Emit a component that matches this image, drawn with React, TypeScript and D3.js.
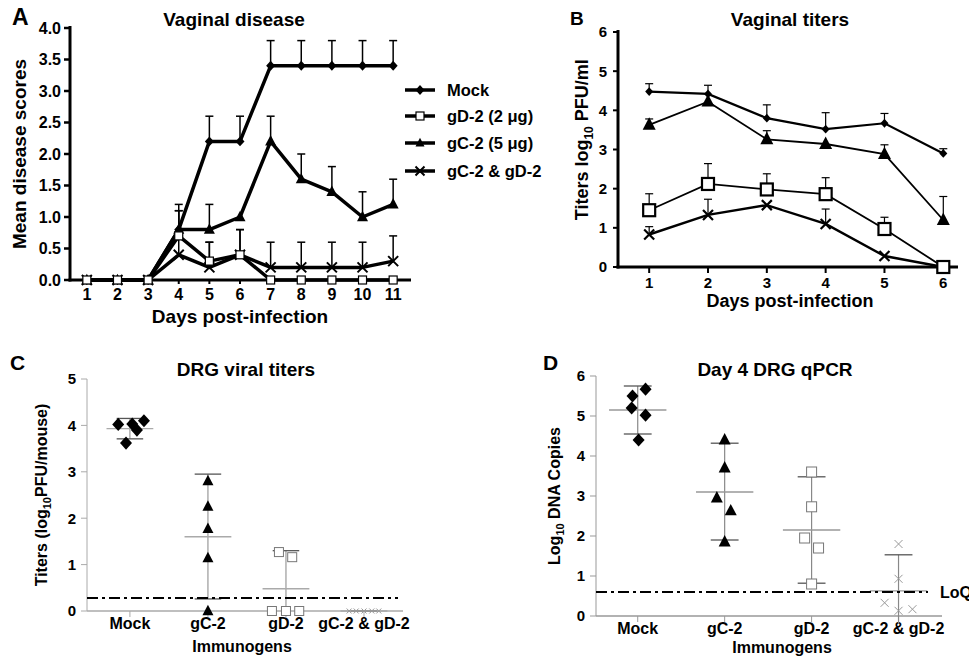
import React from 'react';
import * as d3 from 'd3';

// Panel A: vaginal disease scores, days 1-11
const diseaseDays = [1, 2, 3, 4, 5, 6, 7, 8, 9, 10, 11];
const mockScore = [0, 0, 0, 0.8, 2.2, 2.2, 3.4, 3.4, 3.4, 3.4, 3.4];
const mockScoreErr = [0, 0, 0, 0.4, 0.4, 0.4, 0.4, 0.4, 0.4, 0.4, 0.4];
const gD2Score = [0, 0, 0, 0.7, 0.3, 0.4, 0, 0, 0, 0, 0];
const gD2ScoreErr = [0, 0, 0, 0.4, 0.3, 0.4, 0, 0, 0, 0, 0];
const gC2Score = [0, 0, 0, 0.8, 0.8, 1.0, 2.2, 1.6, 1.4, 1.0, 1.2];
const gC2ScoreErr = [0, 0, 0, 0.3, 0.4, 0, 0.4, 0.4, 0.4, 0.4, 0.4];
const comboScore = [0, 0, 0, 0.4, 0.2, 0.4, 0.2, 0.2, 0.2, 0.2, 0.3];
const comboScoreErr = [0, 0, 0, 0.3, 0.4, 0.4, 0.4, 0.4, 0.4, 0.4, 0.4];
const diseaseTicks = [0, 0.5, 1, 1.5, 2, 2.5, 3, 3.5, 4];
const legendLabels = ['Mock', 'gD-2 (2 μg)', 'gC-2 (5 μg)', 'gC-2 & gD-2'];

// Panel B: vaginal titers, days 1-6
const titerDays = [1, 2, 3, 4, 5, 6];
const mockTiter = [4.48, 4.42, 3.8, 3.52, 3.67, 2.9];
const mockTiterErr = [0.2, 0.22, 0.34, 0.42, 0.25, 0.12];
const gC2Titer = [3.63, 4.22, 3.26, 3.14, 2.88, 1.2];
const gC2TiterErr = [0.15, 0, 0.22, 0, 0.24, 0.6];
const gD2Titer = [1.45, 2.12, 1.98, 1.86, 0.97, 0];
const gD2TiterErr = [0.42, 0.52, 0.4, 0.42, 0.3, 0];
const comboTiter = [0.83, 1.33, 1.58, 1.1, 0.28, 0];
const comboTiterErr = [0.2, 0.4, 0, 0.38, 0, 0];
const titerTicks = [0, 1, 2, 3, 4, 5, 6];

// Panels C and D: immunogen groups
const immunogens = ['Mock', 'gC-2', 'gD-2', 'gC-2 & gD-2'];

const drgMock = [4.02, 3.62, 4.03, 3.9, 4.1];
const drgMockJitter = [-0.15, -0.05, 0.03, 0.09, 0.18];
const drgGC2 = [2.8, 2.25, 1.77, 1.14, 0];
const drgGC2Jitter = [0, 0, 0, 0, 0];
const drgGD2 = [1.27, 1.16, 0, 0, 0];
const drgGD2Jitter = [-0.09, 0.08, -0.18, 0, 0.17];
const drgCombo = [0, 0, 0, 0, 0];
const drgComboJitter = [-0.19, -0.1, 0, 0.1, 0.19];
const drgMean = [3.93, 1.6, 0.48, 0];
const drgLow = [3.71, 0.26, -0.1, 0];
const drgHigh = [4.15, 2.95, 1.3, 0];
const drgTicks = [0, 1, 2, 3, 4, 5];
const drgLimit = 0.28;

const qpcrMock = [5.5, 5.67, 5.2, 5.02, 4.4];
const qpcrMockJitter = [-0.06, 0.09, -0.07, 0.09, 0.01];
const qpcrGC2 = [4.4, 3.7, 2.95, 2.63, 1.85];
const qpcrGC2Jitter = [0, 0, -0.09, 0.07, 0];
const qpcrGD2 = [3.6, 2.73, 1.95, 1.7, 0.8];
const qpcrGD2Jitter = [0, 0, -0.08, 0.08, 0];
const qpcrCombo = [1.8, 0.93, 0.33, 0.13, 0.17];
const qpcrComboJitter = [0, 0, -0.16, 0, 0.16];
const qpcrMean = [5.15, 3.1, 2.15, 0.63];
const qpcrLow = [4.55, 1.9, 0.82, -0.2];
const qpcrHigh = [5.75, 4.32, 3.48, 1.53];
const qpcrTicks = [0, 1, 2, 3, 4, 5, 6];
const qpcrLimit = 0.6;

const FONT = '"Liberation Sans", Arial, Helvetica, sans-serif';

type Kind = 'diamond' | 'square' | 'triangle' | 'cross';

function Marker({ kind, x, y, r, color = 'black', sw = 1.5 }: { kind: Kind; x: number; y: number; r: number; color?: string; sw?: number }) {
  if (kind === 'diamond')
    return <path d={`M${x},${y - r * 1.1}L${x + r},${y}L${x},${y + r * 1.1}L${x - r},${y}Z`} fill={color} />;
  if (kind === 'square')
    return <rect x={x - r} y={y - r} width={2 * r} height={2 * r} fill="white" stroke={color} strokeWidth={sw} />;
  if (kind === 'triangle')
    return <path d={`M${x},${y - r * 1.15}L${x + r},${y + r * 0.75}L${x - r},${y + r * 0.75}Z`} fill={color} />;
  return <path d={`M${x - r},${y - r}L${x + r},${y + r}M${x - r},${y + r}L${x + r},${y - r}`} stroke={color} strokeWidth={sw} fill="none" />;
}

function PanelA() {
  const x = d3.scaleLinear().domain([0.45, 11.55]).range([70, 410]);
  const y = d3.scaleLinear().domain([0, 4]).range([280, 28]);
  const series = [
    { values: mockScore, err: mockScoreErr, kind: 'diamond' as Kind, r: 4.5 },
    { values: gC2Score, err: gC2ScoreErr, kind: 'triangle' as Kind, r: 5.5 },
    { values: comboScore, err: comboScoreErr, kind: 'cross' as Kind, r: 5 },
    { values: gD2Score, err: gD2ScoreErr, kind: 'square' as Kind, r: 4 },
  ];
  const line = d3.line<number>().x((_, i) => x(diseaseDays[i])).y(v => y(v));
  const legendKinds: Kind[] = ['diamond', 'square', 'triangle', 'cross'];
  return (
    <g fontFamily={FONT} fontWeight="bold">
      <text x={12} y={25} fontSize={23}>A</text>
      <text x={234} y={26} fontSize={19} textAnchor="middle">Vaginal disease</text>
      <text transform={`translate(26,${y(2)}) rotate(-90)`} fontSize={19} textAnchor="middle">Mean disease scores</text>
      {diseaseTicks.map(t => (
        <g key={t}>
          <line x1={64} x2={70} y1={y(t)} y2={y(t)} stroke="black" strokeWidth={2.5} />
          <text x={61} y={y(t)} dy="0.36em" fontSize={16} textAnchor="end">{t.toFixed(1)}</text>
        </g>
      ))}
      {diseaseDays.map(d => (
        <g key={d}>
          <line x1={x(d)} x2={x(d)} y1={280} y2={284} stroke="black" strokeWidth={2} />
          <text x={x(d)} y={300} fontSize={16} textAnchor="middle">{d}</text>
        </g>
      ))}
      <text x={240} y={323} fontSize={19} textAnchor="middle">Days post-infection</text>
      {series.map((s, k) => (
        <g key={'e' + k}>
          {s.values.map((v, i) => s.err[i] > 0 && (
            <g key={i}>
              <line x1={x(diseaseDays[i])} x2={x(diseaseDays[i])} y1={y(v)} y2={y(v + s.err[i])} stroke="black" strokeWidth={1.5} />
              <line x1={x(diseaseDays[i]) - 4} x2={x(diseaseDays[i]) + 4} y1={y(v + s.err[i])} y2={y(v + s.err[i])} stroke="black" strokeWidth={1.5} />
            </g>
          ))}
        </g>
      ))}
      {series.map((s, k) => (
        <path key={'l' + k} d={line(s.values) || ''} fill="none" stroke="black" strokeWidth={3.5} strokeLinejoin="round" />
      ))}
      <line x1={70} x2={70} y1={26} y2={281.5} stroke="black" strokeWidth={3} />
      <line x1={68.5} x2={411} y1={280} y2={280} stroke="black" strokeWidth={3} />
      {series.map((s, k) => (
        <g key={'m' + k}>
          {s.values.map((v, i) => (
            <Marker key={i} kind={s.kind} x={x(diseaseDays[i])} y={y(v)} r={s.r} sw={s.kind === 'cross' ? 2 : 1.2} />
          ))}
        </g>
      ))}
      {legendLabels.map((lab, i) => {
        const ly = [90, 116, 143, 171][i];
        return (
          <g key={lab}>
            <line x1={405} x2={435} y1={ly} y2={ly} stroke="black" strokeWidth={3.5} />
            <Marker kind={legendKinds[i]} x={420} y={ly} r={legendKinds[i] === 'square' ? 4 : 4.5} sw={legendKinds[i] === 'cross' ? 2 : 1.2} />
            <text x={447} y={ly + 6} fontSize={16.5}>{lab}</text>
          </g>
        );
      })}
    </g>
  );
}

function PanelB() {
  const x = d3.scaleLinear().domain([0.47, 6.25]).range([618, 958]);
  const y = d3.scaleLinear().domain([0, 6]).range([267, 32]);
  const series = [
    { values: mockTiter, err: mockTiterErr, kind: 'diamond' as Kind, r: 4, w: 2.2 },
    { values: gC2Titer, err: gC2TiterErr, kind: 'triangle' as Kind, r: 6.5, w: 1.8 },
    { values: comboTiter, err: comboTiterErr, kind: 'cross' as Kind, r: 5, w: 2.4 },
    { values: gD2Titer, err: gD2TiterErr, kind: 'square' as Kind, r: 6, w: 1.8 },
  ];
  const line = d3.line<number>().x((_, i) => x(titerDays[i])).y(v => y(v));
  return (
    <g fontFamily={FONT} fontWeight="bold">
      <text x={570} y={25} fontSize={19}>B</text>
      <text x={790} y={26} fontSize={19} textAnchor="middle">Vaginal titers</text>
      <text transform={`translate(588,${y(3.25)}) rotate(-90)`} fontSize={18} textAnchor="middle">
        Titers log<tspan fontSize={12} dy={5}>10</tspan><tspan dy={-5}> PFU/ml</tspan>
      </text>
      {titerTicks.map(t => (
        <g key={t}>
          <line x1={613} x2={618} y1={y(t)} y2={y(t)} stroke="black" strokeWidth={2} />
          <text x={607} y={y(t)} dy="0.36em" fontSize={15} textAnchor="end">{t}</text>
        </g>
      ))}
      {titerDays.map(d => (
        <g key={d}>
          <line x1={x(d)} x2={x(d)} y1={267} y2={273} stroke="black" strokeWidth={2} />
          <text x={x(d)} y={288} fontSize={15} textAnchor="middle">{d}</text>
        </g>
      ))}
      <text x={790} y={307} fontSize={18} textAnchor="middle">Days post-infection</text>
      {series.map((s, k) => (
        <g key={'e' + k}>
          {s.values.map((v, i) => s.err[i] > 0 && (
            <g key={i}>
              <line x1={x(titerDays[i])} x2={x(titerDays[i])} y1={y(v)} y2={y(v + s.err[i])} stroke="black" strokeWidth={1.2} />
              <line x1={x(titerDays[i]) - 4} x2={x(titerDays[i]) + 4} y1={y(v + s.err[i])} y2={y(v + s.err[i])} stroke="black" strokeWidth={1.2} />
            </g>
          ))}
        </g>
      ))}
      {series.map((s, k) => (
        <path key={'l' + k} d={line(s.values) || ''} fill="none" stroke="black" strokeWidth={s.w} />
      ))}
      <line x1={618} x2={618} y1={30} y2={268.5} stroke="black" strokeWidth={3} />
      <line x1={616.5} x2={958} y1={267} y2={267} stroke="black" strokeWidth={3} />
      {series.map((s, k) => (
        <g key={'m' + k}>
          {s.values.map((v, i) => (
            <Marker key={i} kind={s.kind} x={x(titerDays[i])} y={y(v)} r={s.r} sw={2.2} />
          ))}
        </g>
      ))}
    </g>
  );
}

type Dot = { values: number[]; jitter: number[]; kind: Kind; color: string; r: number };

function ScatterPanel(props: {
  letter: string; title: string; titleX: number; letterX: number; top: number;
  x0: number; x1: number; xDomain: [number, number]; yBase: number; yTop: number; yMax: number;
  ticks: number[]; groups: Dot[]; mean: number[]; low: number[]; high: number[];
  limit: number; limitEnd: number; limitLabel?: string; yLabel: React.ReactNode; yLabelX: number; catY: number; immX: number; immDy: number;
  meanHalf: number; capHalf: number; meanColor: string; barColor: string; axisColor: string;
}) {
  const p = props;
  const x = d3.scaleLinear().domain(p.xDomain).range([p.x0, p.x1]);
  const y = d3.scaleLinear().domain([0, p.yMax]).range([p.yBase, p.yTop]);
  return (
    <g fontFamily={FONT} fontWeight="bold">
      <text x={p.letterX} y={p.top} fontSize={21}>{p.letter}</text>
      <text x={p.titleX} y={p.top + 6} fontSize={19} textAnchor="middle">{p.title}</text>
      <text transform={`translate(${p.yLabelX},${y(p.yMax / 2)}) rotate(-90)`} fontSize={16} textAnchor="middle">{p.yLabel}</text>
      <line x1={p.x0} x2={p.x0} y1={p.yTop} y2={p.yBase} stroke={p.axisColor} strokeWidth={1} />
      <line x1={p.x0} x2={p.x1} y1={p.yBase} y2={p.yBase} stroke={p.axisColor} strokeWidth={1.5} />
      {p.ticks.map(t => (
        <g key={t}>
          <line x1={p.x0 - 6} x2={p.x0} y1={y(t)} y2={y(t)} stroke={p.axisColor} strokeWidth={1} />
          <text x={p.x0 - 11} y={y(t)} dy="0.36em" fontSize={15} textAnchor="end">{t}</text>
        </g>
      ))}
      {immunogens.map((c, i) => (
        <g key={c}>
          <line x1={x(i)} x2={x(i)} y1={p.yBase} y2={p.yBase + 6} stroke={p.axisColor} strokeWidth={1} />
          <text x={x(i)} y={p.catY} fontSize={16} textAnchor="middle">{c}</text>
        </g>
      ))}
      <text x={p.immX} y={p.catY + p.immDy} fontSize={16} textAnchor="middle">Immunogens</text>
      {immunogens.map((c, i) => {
        const cx = x(i);
        const hiY = y(p.high[i]);
        const loY = Math.min(y(p.low[i]), p.yBase + 8);
        const unit = x(1) - x(0);
        return (
          <g key={'s' + c}>
            <line x1={cx} x2={cx} y1={hiY} y2={loY} stroke={p.barColor} strokeWidth={1.2} />
            <line x1={cx - p.capHalf * unit} x2={cx + p.capHalf * unit} y1={hiY} y2={hiY} stroke="#555" strokeWidth={1.3} />
            {p.low[i] >= 0 && (
              <line x1={cx - p.capHalf * unit} x2={cx + p.capHalf * unit} y1={y(p.low[i])} y2={y(p.low[i])} stroke="#555" strokeWidth={1.3} />
            )}
            <line x1={cx - p.meanHalf * unit} x2={cx + p.meanHalf * unit} y1={y(p.mean[i])} y2={y(p.mean[i])} stroke={p.meanColor} strokeWidth={1.3} />
          </g>
        );
      })}
      <line x1={p.x0} x2={p.limitEnd} y1={y(p.limit)} y2={y(p.limit)} stroke="black" strokeWidth={1.8} strokeDasharray="11,4,3,4" />
      {p.limitLabel && <text x={p.limitEnd + 12} y={y(p.limit)} dy="0.36em" fontSize={16}>{p.limitLabel}</text>}
      {p.groups.map((g, gi) => (
        <g key={'g' + gi}>
          {g.values.map((v, i) => (
            <Marker key={i} kind={g.kind} x={x(gi + g.jitter[i])} y={y(v)} r={g.r} color={g.color} sw={1} />
          ))}
        </g>
      ))}
    </g>
  );
}

export default function App() {
  return (
    <div style={{ position: 'absolute', left: 0, top: 0 }}>
      <svg width={969} height={662} style={{ display: 'block', background: 'white' }}>
        <PanelA />
        <PanelB />
        <ScatterPanel
          letter="C" title="DRG viral titers" titleX={246} letterX={10} top={370}
          x0={87} x1={403} xDomain={[-0.55, 3.5]} yBase={611} yTop={379} yMax={5}
          ticks={drgTicks}
          groups={[
            { values: drgMock, jitter: drgMockJitter, kind: 'diamond', color: 'black', r: 6 },
            { values: drgGC2, jitter: drgGC2Jitter, kind: 'triangle', color: 'black', r: 5.5 },
            { values: drgGD2, jitter: drgGD2Jitter, kind: 'square', color: '#777', r: 4.5 },
            { values: drgCombo, jitter: drgComboJitter, kind: 'cross', color: '#999', r: 2.5 },
          ]}
          mean={drgMean} low={drgLow} high={drgHigh}
          limit={drgLimit} limitEnd={398}
          yLabel={<>Titers (log<tspan fontSize={11} dy={4}>10</tspan><tspan dy={-4}>PFU/mouse)</tspan></>}
          yLabelX={47} catY={629} immX={242} immDy={23}
          meanHalf={0.3} capHalf={0.17} meanColor="#aaa" barColor="#999" axisColor="#aaa"
        />
        <ScatterPanel
          letter="D" title="Day 4 DRG qPCR" titleX={775} letterX={543} top={370}
          x0={596} x1={942} xDomain={[-0.48, 3.5]} yBase={616} yTop={376} yMax={6}
          ticks={qpcrTicks}
          groups={[
            { values: qpcrMock, jitter: qpcrMockJitter, kind: 'diamond', color: 'black', r: 6 },
            { values: qpcrGC2, jitter: qpcrGC2Jitter, kind: 'triangle', color: 'black', r: 6 },
            { values: qpcrGD2, jitter: qpcrGD2Jitter, kind: 'square', color: '#777', r: 5 },
            { values: qpcrCombo, jitter: qpcrComboJitter, kind: 'cross', color: '#999', r: 4 },
          ]}
          mean={qpcrMean} low={qpcrLow} high={qpcrHigh}
          limit={qpcrLimit} limitEnd={928} limitLabel="LoQ"
          yLabel={<>Log<tspan fontSize={11} dy={4}>10</tspan><tspan dy={-4}> DNA Copies</tspan></>}
          yLabelX={560} catY={634} immX={782} immDy={19}
          meanHalf={0.33} capHalf={0.16} meanColor="#999" barColor="#888" axisColor="#999"
        />
      </svg>
    </div>
  );
}
